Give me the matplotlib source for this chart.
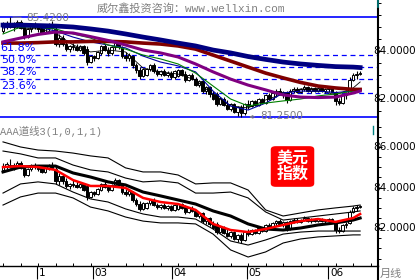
import matplotlib
matplotlib.use("Agg")
import matplotlib.pyplot as plt
from matplotlib.patches import FancyBboxPatch
from matplotlib.lines import Line2D
from matplotlib.ticker import MultipleLocator, FixedLocator
from matplotlib.transforms import blended_transform_factory

plt.rcParams["font.family"] = ["DejaVu Sans", "Noto Sans CJK SC"]
MONO = ["Liberation Mono", "Noto Sans CJK SC"]

W, H = 420, 280            # output size, pixels
GRAY = "#808080"
BLUE = "#0000ff"

# ---------------------------------------------------------------------------
# daily bars
# ---------------------------------------------------------------------------
opens = [84.85, 85.05, 85.10, 85.00, 85.10, 85.20, 85.00, 84.60, 84.90, 85.05,
         85.00, 84.95, 84.75, 84.95, 85.05, 84.90, 84.30, 84.55, 84.30, 84.10,
         84.20, 84.15, 84.05, 84.20, 84.10, 83.55, 83.80, 83.70, 83.90, 84.20,
         84.05, 83.90, 84.15, 84.35, 84.15, 83.80, 83.70, 83.80, 83.40, 83.20,
         82.95, 83.00, 83.25, 83.40, 83.15, 83.05, 83.15, 83.00, 83.10, 82.90,
         82.95, 83.20, 83.05, 82.80, 83.00, 82.85, 82.60, 82.75, 82.35, 82.50,
         82.20, 82.20, 81.80, 82.00, 81.75, 81.60, 81.80, 81.45, 81.65, 81.40,
         81.80, 81.70, 81.90, 81.75, 82.00, 81.85, 82.15, 82.00, 82.25, 82.35,
         82.20, 82.30, 81.95, 82.35, 82.40, 82.30, 82.40, 82.50, 82.35, 82.45,
         82.35, 82.45, 82.35, 82.40, 82.45, 82.30, 81.90, 81.85, 82.15, 82.25,
         82.80, 83.00, 83.05]
highs = [85.20, 85.25, 85.42, 85.20, 85.30, 85.30, 85.10, 84.95, 85.15, 85.20,
         85.10, 85.05, 85.00, 85.15, 85.25, 85.00, 84.70, 84.65, 84.45, 84.25,
         84.35, 84.30, 84.25, 84.25, 84.20, 83.85, 83.85, 84.00, 84.25, 84.30,
         84.15, 84.20, 84.45, 84.40, 84.20, 83.95, 83.90, 83.85, 83.50, 83.35,
         83.30, 83.30, 83.45, 83.50, 83.25, 83.20, 83.25, 83.15, 83.15, 83.20,
         83.25, 83.25, 83.15, 83.05, 83.10, 82.90, 82.80, 82.80, 82.55, 82.55,
         82.35, 82.30, 82.10, 82.10, 81.95, 81.85, 81.85, 81.70, 81.75, 81.85,
         81.95, 81.95, 81.95, 82.05, 82.05, 82.20, 82.25, 82.30, 82.40, 82.45,
         82.35, 82.35, 82.40, 82.50, 82.50, 82.45, 82.60, 82.55, 82.50, 82.50,
         82.50, 82.50, 82.45, 82.50, 82.50, 82.35, 82.05, 82.20, 82.30, 82.90,
         83.10, 83.15, 83.15]
lows = [84.75, 84.90, 84.95, 84.85, 84.95, 84.90, 84.50, 84.55, 84.80, 84.90,
        84.80, 84.70, 84.70, 84.85, 84.90, 84.20, 84.15, 84.20, 84.00, 83.95,
        84.05, 84.00, 84.00, 83.85, 83.40, 83.50, 83.60, 83.65, 83.85, 84.00,
        83.80, 83.85, 84.05, 84.10, 83.70, 83.60, 83.60, 83.30, 83.10, 82.85,
        82.90, 82.95, 83.15, 83.10, 82.95, 82.95, 82.95, 82.90, 82.85, 82.85,
        82.90, 82.95, 82.70, 82.75, 82.80, 82.55, 82.50, 82.25, 82.20, 82.10,
        81.95, 81.70, 81.75, 81.70, 81.55, 81.50, 81.40, 81.30, 81.25, 81.35,
        81.60, 81.65, 81.70, 81.70, 81.80, 81.80, 81.95, 81.95, 82.10, 82.15,
        82.05, 81.85, 81.90, 82.25, 82.25, 82.25, 82.35, 82.30, 82.25, 82.30,
        82.30, 82.30, 82.25, 82.30, 82.25, 81.75, 81.75, 81.80, 82.00, 82.20,
        82.75, 82.85, 83.00]
closes = [85.05, 85.15, 85.00, 85.10, 85.20, 84.95, 84.60, 84.90, 85.05, 85.00,
          84.90, 84.75, 84.95, 85.05, 84.95, 84.30, 84.55, 84.30, 84.10, 84.20,
          84.15, 84.05, 84.20, 83.90, 83.55, 83.80, 83.70, 83.95, 84.20, 84.05,
          83.90, 84.15, 84.35, 84.15, 83.80, 83.70, 83.85, 83.40, 83.20, 82.95,
          83.25, 83.25, 83.40, 83.15, 83.05, 83.15, 83.00, 83.10, 82.90, 83.15,
          83.20, 83.00, 82.80, 83.00, 82.85, 82.60, 82.75, 82.35, 82.50, 82.20,
          82.00, 81.80, 82.05, 81.75, 81.60, 81.80, 81.45, 81.65, 81.40, 81.80,
          81.70, 81.90, 81.75, 82.00, 81.85, 82.15, 82.00, 82.25, 82.35, 82.20,
          82.30, 81.95, 82.35, 82.40, 82.30, 82.40, 82.50, 82.35, 82.45, 82.35,
          82.45, 82.35, 82.40, 82.45, 82.30, 81.90, 81.85, 82.15, 82.20, 82.80,
          83.00, 83.05, 83.10]
bars = list(range(len(opens)))

# indicator lines, read at every 5th bar plus the last one
ma_bars = [0, 5, 10, 15, 20, 25, 30, 35, 40, 45, 50, 55, 60, 65, 70, 75, 80,
           85, 90, 95, 100, 102]
ma_navy = [85.08, 85.08, 85.06, 85.04, 85.00, 84.92, 84.83, 84.71, 84.58, 84.46,
           84.33, 84.21, 84.04, 83.92, 83.77, 83.65, 83.54, 83.46, 83.40, 83.35,
           83.33, 83.31]
ma_maroon = [84.33, 84.33, 84.35, 84.38, 84.38, 84.40, 84.40, 84.38, 84.33, 84.29,
             84.21, 84.08, 83.83, 83.58, 83.33, 83.08, 82.88, 82.69, 82.54, 82.46,
             82.40, 82.40]
ma_purple = [84.38, 84.54, 84.69, 84.79, 84.75, 84.60, 84.44, 84.25, 84.04, 83.92,
             83.75, 83.46, 83.13, 82.83, 82.58, 82.38, 82.17, 82.08, 82.06, 82.08,
             82.25, 82.33]
ma_green = [84.71, 85.00, 85.00, 84.92, 84.71, 84.54, 84.25, 84.08, 83.83, 83.67,
            83.46, 83.08, 82.54, 82.00, 81.71, 81.83, 81.92, 82.00, 82.13, 82.21,
            82.33, 82.38]
ma_blue = [84.96, 85.04, 85.00, 84.83, 84.58, 84.38, 84.25, 84.13, 83.79, 83.54,
           83.38, 83.13, 82.33, 81.71, 81.54, 81.83, 82.25, 82.33, 82.33, 82.27,
           82.33, 82.38]
ma_black = [85.00, 84.96, 84.92, 84.75, 84.25, 83.96, 84.04, 83.96, 83.29, 83.13,
            83.04, 82.79, 82.17, 81.71, 81.63, 81.96, 82.21, 82.42, 82.38, 82.17,
            82.46, 82.71]

# lower panel channel ("AAA道线3")
ch_mid = [84.77, 85.01, 85.06, 85.06, 84.72, 84.52, 84.28, 84.13, 83.78, 83.59,
          83.39, 83.19, 82.85, 82.60, 82.21, 81.96, 81.91, 82.01, 82.16, 82.26,
          82.40, 82.50]
ch_red = [85.01, 85.06, 85.01, 84.87, 84.37, 84.08, 84.08, 83.98, 83.49, 83.29,
          83.19, 82.90, 82.21, 81.91, 81.81, 81.96, 82.16, 82.35, 82.45, 82.31,
          82.50, 82.70]
ch_up_outer = [86.25, 86.00, 85.85, 85.80, 85.70, 85.56, 85.46, 84.97, 84.77, 84.77,
               84.62, 84.18, 84.23, 84.23, 83.88, 82.90, 82.60, 82.75, 82.90, 83.00,
               83.09, 83.14]
ch_up_inner = [85.80, 85.66, 85.46, 85.46, 85.11, 84.87, 84.77, 84.47, 84.28, 84.33,
               84.23, 83.73, 83.73, 83.78, 83.49, 82.80, 82.40, 82.50, 82.60, 82.70,
               82.80, 82.85]
ch_lo_inner = [83.73, 84.18, 84.28, 84.18, 83.78, 83.44, 83.29, 82.95, 82.70, 82.55,
               82.55, 82.45, 81.96, 81.37, 81.17, 81.42, 81.71, 81.81, 81.86, 81.86,
               81.86, 81.86]
ch_lo_outer = [83.14, 83.54, 83.73, 83.73, 83.49, 83.04, 82.85, 82.55, 82.35, 82.26,
               82.26, 82.21, 81.71, 80.93, 80.58, 80.83, 81.27, 81.47, 81.57, 81.62,
               81.67, 81.67]

fib_ratios = [0.618, 0.5, 0.382, 0.236]
fib_labels = ["61.8%", "50.0%", "38.2%", "23.6%"]

month_pos = [9.7, 25.7, 48.3, 69.7, 92.9]
month_labels = ["1", "03", "04", "05", "06"]

top_ticks = [84, 82]
bot_ticks = [86, 84, 82]


def candles(ax):
    ax.vlines(bars, lows, highs, color="black", lw=0.8, zorder=2)
    bottoms = [min(o, c) for o, c in zip(opens, closes)]
    heights = [max(abs(c - o), 0.02) for o, c in zip(opens, closes)]
    fills = ["white" if c >= o else "black" for o, c in zip(opens, closes)]
    ax.bar(bars, heights, bottom=bottoms, width=0.7, color=fills,
           edgecolor="black", linewidth=0.7, zorder=3)


def right_axis(ax, ticks, fig):
    for s in ("top", "left", "bottom"):
        ax.spines[s].set_visible(False)
    ax.spines["right"].set_linewidth(1.5)
    ax.yaxis.tick_right()
    ax.yaxis.set_major_locator(FixedLocator(ticks))
    ax.yaxis.set_minor_locator(MultipleLocator(0.5))
    ax.tick_params(axis="y", which="major", direction="out", length=3,
                   width=0.8, labelright=False)
    ax.tick_params(axis="y", which="minor", direction="out", length=2, width=0.7)
    trans = blended_transform_factory(fig.transFigure, ax.transData)
    for t in ticks:
        ax.text(373 / W, t, f"{t:.4f}", transform=trans, ha="left", va="center",
                fontsize=7.5, color="black", clip_on=False)


fig = plt.figure(figsize=(W / 100, H / 100), dpi=100)
fig.patch.set_facecolor("white")

ax_top = fig.add_axes([0, 1 - 122 / H, 378 / W, 122 / H])
ax_bot = fig.add_axes([0, 1 - 266 / H, 378 / W, 144 / H])
for ax in (ax_top, ax_bot):
    ax.set_xlim(-0.86, 107.1)
    ax.set_facecolor("none")
ax_top.set_ylim(81.042, 86.125)
ax_bot.set_ylim(80.138, 87.23)

# ---- top panel --------------------------------------------------------------
candles(ax_top)
ax_top.plot(ma_bars, ma_black, color="black", lw=0.6, zorder=4)
ax_top.plot(ma_bars, ma_blue, color="#0000a0", lw=0.8, zorder=4)
ax_top.plot(ma_bars, ma_green, color="#008000", lw=0.8, zorder=4)
ax_top.plot(ma_bars, ma_maroon, color="#800000", lw=2.6, zorder=5)
ax_top.plot(ma_bars, ma_purple, color="#800080", lw=2.2, zorder=5)
ax_top.plot(ma_bars, ma_navy, color="#000080", lw=3.4, zorder=6)

hi, lo = max(highs), min(lows)
ax_top.axhline(hi, color=BLUE, lw=1.2, zorder=1)
ax_top.axhline(lo, color=BLUE, lw=1.2, zorder=1)
for r, lab in zip(fib_ratios, fib_labels):
    level = lo + r * (hi - lo)
    ax_top.axhline(level, color=BLUE, lw=0.9, ls=(0, (4, 3)), zorder=1)
    ax_top.annotate(lab, xy=(0, level), xycoords=("axes fraction", "data"),
                    xytext=(0.5, 1.5), textcoords="offset points",
                    ha="left", va="bottom", color=BLUE, fontsize=8, zorder=7)

i_hi = highs.index(hi)
i_lo = lows.index(lo)
ax_top.annotate(f"{hi:.4f}", xy=(i_hi, hi), xytext=(12, -1),
                textcoords="offset points", ha="left", va="center",
                color=GRAY, fontsize=7.5, zorder=8,
                arrowprops=dict(arrowstyle="-", color=GRAY, lw=0.7))
ax_top.annotate(f"{lo:.4f}", xy=(i_lo + 1.5, lo), xytext=(10, 0.5),
                textcoords="offset points", ha="left", va="center",
                color=GRAY, fontsize=7.5, zorder=8,
                arrowprops=dict(arrowstyle="->", color=GRAY, lw=0.7,
                                mutation_scale=5))
ax_top.set_xticks([])
right_axis(ax_top, top_ticks, fig)

# ---- bottom panel -----------------------------------------------------------
candles(ax_bot)
for band in (ch_up_outer, ch_up_inner, ch_lo_inner, ch_lo_outer):
    ax_bot.plot(ma_bars, band, color="black", lw=0.8, zorder=4)
ax_bot.plot(ma_bars, ch_mid, color="black", lw=2.2, zorder=5)
ax_bot.plot(ma_bars, ch_red, color="#ff0000", lw=1.8, zorder=6)
right_axis(ax_bot, bot_ticks, fig)
ax_bot.spines["bottom"].set_visible(True)
ax_bot.spines["bottom"].set_linewidth(1.0)
ax_bot.xaxis.set_major_locator(FixedLocator(month_pos))
ax_bot.xaxis.set_minor_locator(MultipleLocator(5))
ax_bot.tick_params(axis="x", which="major", direction="out", length=9.5,
                   width=0.8, labelbottom=False)
ax_bot.tick_params(axis="x", which="minor", direction="in", length=2.2, width=0.7)
xtrans = blended_transform_factory(ax_bot.transData, fig.transFigure)
for pos, lab in zip(month_pos, month_labels):
    ax_bot.text(pos + 0.5, 1 - 273 / H, lab, transform=xtrans, ha="left",
                va="center", fontsize=7.5, color="black", clip_on=False)

# ---- annotations ------------------------------------------------------------
fig.text(97 / W, 1 - 8 / H, "威尔鑫投资咨询：www.wellxin.com", color=GRAY,
         fontsize=8, family=MONO, ha="left", va="center")
fig.text(0, 1 - 131 / H, "AAA道线3(1,0,1,1)", color=GRAY, fontsize=7.5,
         family=MONO, ha="left", va="center")
fig.text(380 / W, 1 - 274 / H, "月线", color=GRAY, fontsize=8,
         ha="left", va="center")

box = FancyBboxPatch((272 / W, 1 - 186 / H), 41 / W, 39 / H,
                     boxstyle="round,pad=0.003,rounding_size=0.012",
                     transform=fig.transFigure, facecolor="#ff0000",
                     edgecolor="none", zorder=10)
fig.patches.append(box)
fig.text(292.5 / W, 1 - 166 / H, "美元\n指数", color="white", fontsize=11.5,
         fontweight="bold", ha="center", va="center", linespacing=1.0,
         family=["Noto Sans CJK SC"], zorder=11)

# right axis continues below the x axis; small teal markers on it
fig.lines.append(Line2D([378 / W, 378 / W], [1 - 266 / H, 0], color="black",
                        lw=1.5, transform=fig.transFigure))
fig.lines.append(Line2D([378 / W, 378 / W], [1, 1 - 7 / H], color="#008080",
                        lw=1.2, transform=fig.transFigure))
fig.lines.append(Line2D([373 / W, 373 / W], [1 - 126 / H, 1 - 134 / H],
                        color="#008080", lw=1.0, transform=fig.transFigure))

fig.savefig("out.png", dpi=100)
